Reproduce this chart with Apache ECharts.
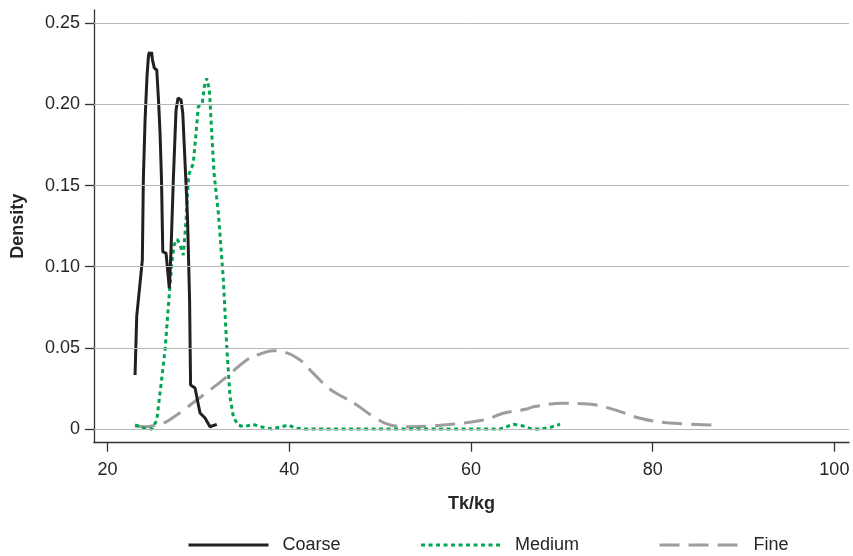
<!DOCTYPE html>
<html>
<head>
<meta charset="utf-8">
<script src="https://cdn.jsdelivr.net/npm/echarts@6/dist/echarts.min.js"></script>
<style>
  html, body { margin: 0; padding: 0; background: #fff; }
  #chart { width: 853px; height: 556px; }
</style>
</head>
<body>
<div id="chart"></div>
<script>
////--------------------------------------------------------------------////
// density curves, [Tk/kg, density]
const coarse = [
    [23.03,0.0333],[23.21,0.0692],[23.50,0.0856],[23.83,0.1041],[23.94,0.1534],
    [24.13,0.1904],[24.35,0.2181],[24.51,0.2304],[24.62,0.2323],[24.73,0.2298],
    [24.84,0.2323],[24.95,0.2274],[25.06,0.2286],[25.15,0.2224],[25.42,0.2212],
    [25.61,0.2027],[25.78,0.1824],[25.94,0.1534],[26.08,0.1092],[26.44,0.1084],
    [26.80,0.0867],[26.99,0.1103],[27.24,0.1534],[27.54,0.1966],[27.76,0.2040],
    [27.90,0.2052],[28.09,0.2027],[28.28,0.1947],[28.72,0.1411],[28.81,0.1288],
    [29.03,0.0795],[29.14,0.0271],[29.63,0.0253],[30.18,0.0099],[30.73,0.0068],
    [31.28,0.0014],[32.02,0.0029]
];
const medium = [
    [23.03,0.0025],[24.13,0.0004],[24.90,0.0000],[25.42,0.0055],[25.86,0.0261],
    [26.33,0.0487],[26.69,0.0754],[27.07,0.1021],[27.32,0.1134],[27.68,0.1169],
    [27.98,0.1134],[28.34,0.1072],[28.64,0.1288],[28.89,0.1534],[29.00,0.1576],
    [29.44,0.1637],[29.74,0.1824],[29.99,0.1986],[30.43,0.2007],[30.65,0.2109],
    [30.92,0.2161],[31.21,0.2089],[31.47,0.1824],[31.72,0.1577],[32.20,0.1329],
    [32.75,0.0918],[33.12,0.0507],[33.48,0.0199],[33.85,0.0074],[34.36,0.0025],
    [34.95,0.0014],[36.05,0.0028],[37.01,0.0012],[38.07,0.0000],[38.99,0.0012],
    [39.90,0.0025],[40.64,0.0006],[41.55,0.0000],[63.20,0.0000],[64.67,0.0029],
    [65.77,0.0018],[66.69,0.0000],[67.79,0.0000],[68.71,0.0010],[69.81,0.0029]
];
const fine = [
    [23.03,0.0018],[24.13,0.0014],[25.23,0.0022],[26.14,0.0035],[27.24,0.0072],
    [28.53,0.0123],[29.82,0.0179],[31.28,0.0240],[33.12,0.0322],[35.32,0.0425],
    [36.79,0.0462],[38.25,0.0482],[39.35,0.0476],[41.19,0.0425],[42.65,0.0343],
    [44.49,0.0245],[45.92,0.0197],[47.43,0.0148],[49.26,0.0076],[51.10,0.0025],
    [53.30,0.0014],[56.96,0.0025],[61.36,0.0055],[63.57,0.0097],[66.14,0.0123],
    [66.87,0.0137],[70.17,0.0158],[72.92,0.0154],[75.67,0.0121],[78.61,0.0066],
    [81.55,0.0039],[86.51,0.0025]
];
const xTicks = [20, 40, 60, 80, 100];
const yTicks = [0, 0.05, 0.10, 0.15, 0.20, 0.25];
////--------------------------------------------------------------------////
const font_face = '"Liberation Sans", Arial, sans-serif';
const text_color = '#262626';

function build_option() {
    return {
        animation: false,
        backgroundColor: '#fff',
        grid: {left: 94, right: 4, top: 10, bottom: 113.3, containLabel: false},
        legend: {
            left: 182, top: 531,
            itemWidth: 80, itemHeight: 16, itemGap: 79,
            itemStyle: {opacity: 0},
            lineStyle: {width: 3},
            textStyle: {fontFamily: font_face, fontSize: 18, color: text_color, padding: [0, 0, 0, 9]},
            data: ['Coarse', 'Medium', 'Fine']
        },
        xAxis: {
            type: 'value', min: 18.51, max: 101.61,
            name: 'Tk/kg', nameLocation: 'middle', nameGap: 52,
            nameTextStyle: {fontFamily: font_face, fontSize: 18, fontWeight: 'bold', color: text_color},
            axisLine: {onZero: false, lineStyle: {color: '#333', width: 1.3}},
            axisTick: {customValues: xTicks, length: 9, lineStyle: {color: '#333', width: 1.3}},
            axisLabel: {customValues: xTicks, margin: 18, fontFamily: font_face, fontSize: 18, color: text_color},
            splitLine: {show: false}
        },
        yAxis: {
            type: 'value', min: -0.00844, max: 0.2582,
            name: 'Density', nameLocation: 'middle', nameGap: 67,
            nameTextStyle: {fontFamily: font_face, fontSize: 18, fontWeight: 'bold', color: text_color},
            axisLine: {show: true, lineStyle: {color: '#333', width: 1.3}},
            axisTick: {show: true, customValues: yTicks, length: 9, lineStyle: {color: '#333', width: 1.3}},
            axisLabel: {
                customValues: yTicks, margin: 14, fontFamily: font_face, fontSize: 18, color: text_color,
                formatter: v => (v === 0 ? '0' : v.toFixed(2))
            },
            splitLine: {show: false}
        },
        series: [
            {
                // grid lines at the y ticks
                type: 'line', data: [], silent: true, z: 1,
                markLine: {
                    silent: true, symbol: 'none', label: {show: false},
                    lineStyle: {color: '#b8b8b8', width: 1, type: 'solid'},
                    data: yTicks.map(v => ({yAxis: v}))
                }
            },
            {
                name: 'Coarse', type: 'line', data: coarse, showSymbol: false, symbol: 'none', z: 4,
                lineStyle: {color: '#231f20', width: 3, type: 'solid'},
                itemStyle: {color: '#231f20'}
            },
            {
                name: 'Medium', type: 'line', data: medium, showSymbol: false, symbol: 'none', z: 3,
                lineStyle: {color: '#00a651', width: 3, type: [4, 3.5]},
                itemStyle: {color: '#00a651'}
            },
            {
                name: 'Fine', type: 'line', data: fine, showSymbol: false, symbol: 'none', z: 2,
                smooth: 0.4,
                lineStyle: {color: '#9d9d9f', width: 3, type: [20, 9]},
                itemStyle: {color: '#9d9d9f'}
            }
        ]
    };
}
////-------------------////
const chart = echarts.init(document.getElementById('chart'), null, {renderer: 'canvas'});
chart.setOption(build_option());
window.addEventListener('resize', chart.resize);
</script>
</body>
</html>
